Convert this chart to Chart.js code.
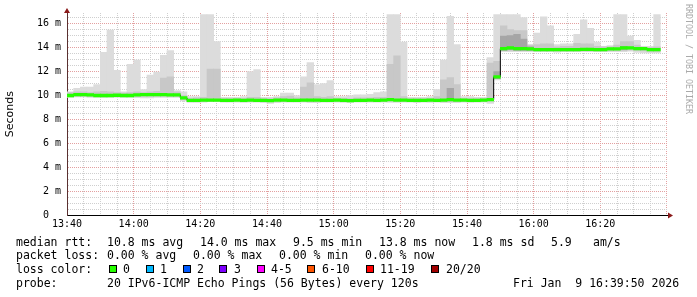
<!DOCTYPE html>
<html>
<head>
<meta charset="utf-8">
<script src="https://cdn.jsdelivr.net/npm/chart.js@4.4.1/dist/chart.umd.min.js"></script>
<style>
  body { margin: 0; background: #fff; width: 697px; height: 297px; overflow: hidden; position: relative; font-family: "DejaVu Sans Mono", monospace; }
  #chart { position: absolute; left: 0; top: 0; }
  .row { position: absolute; left: 0; width: 697px; height: 14px; font-size: 11.5px; line-height: 14px; white-space: pre; color: #000; }
  .row span { position: absolute; top: 0; }
  .row i { position: absolute; top: 3px; width: 6px; height: 6px; border: 1px solid #000; }
  #credit { position: absolute; left: 684px; top: 4px; writing-mode: vertical-rl; font-size: 8.3px; color: #aaa; white-space: pre; }
</style>
</head>
<body>
<canvas id="chart" width="697" height="297"></canvas>
<div id="credit">RRDTOOL / TOBI OETIKER</div>
<div id="legend"></div>
<script>
// 2-minute steps starting at 13:40
const startMinutes = 13 * 60 + 40;
const stepMinutes = 2;

// median rtt per step (ms)
const median = [
  10.0, 10.08, 10.08, 10.05, 10.0, 10.0, 10.0, 10.02, 10.0, 10.0,
  10.05, 10.08, 10.08, 10.08, 10.08, 10.05, 10.05, 9.8, 9.6, 9.6,
  9.62, 9.62, 9.62, 9.6, 9.6, 9.62, 9.6, 9.62, 9.6, 9.6,
  9.58, 9.62, 9.62, 9.6, 9.6, 9.62, 9.62, 9.62, 9.6, 9.6,
  9.62, 9.6, 9.58, 9.6, 9.6, 9.62, 9.6, 9.62, 9.65, 9.62,
  9.62, 9.6, 9.6, 9.6, 9.62, 9.6, 9.62, 9.65, 9.62, 9.62,
  9.6, 9.6, 9.62, 9.65, 11.55, 13.9, 13.97, 13.9, 13.9, 13.88,
  13.83, 13.83, 13.83, 13.83, 13.83, 13.83, 13.83, 13.85, 13.85, 13.83,
  13.83, 13.88, 13.88, 13.97, 13.97, 13.9, 13.9, 13.83, 13.83, null
];

// fastest ping per step
const smokeLow = [
  9.85, 9.88, 9.88, 9.85, 9.85, 9.82, 9.85, 9.85, 9.85, 9.85,
  9.82, 9.8, 9.8, 9.85, 9.85, 9.85, 9.85, 9.55, 9.42, 9.42,
  9.45, 9.48, 9.48, 9.45, 9.45, 9.45, 9.42, 9.45, 9.45, 9.4,
  9.35, 9.4, 9.45, 9.45, 9.45, 9.45, 9.4, 9.4, 9.45, 9.45,
  9.45, 9.42, 9.4, 9.45, 9.45, 9.45, 9.45, 9.45, 9.42, 9.42,
  9.45, 9.45, 9.4, 9.45, 9.42, 9.45, 9.4, 9.4, 9.4, 9.45,
  9.42, 9.45, 9.45, 9.35, 11.3, 13.65, 13.65, 13.65, 13.65, 13.65,
  13.65, 13.65, 13.65, 13.62, 13.65, 13.65, 13.65, 13.65, 13.65, 13.65,
  13.65, 13.65, 13.65, 13.65, 13.7, 13.6, 13.55, 13.55, 13.55, null
];

// slowest ping per step
const smokeHigh = [
  10.3, 10.6, 10.7, 10.7, 10.9, 13.6, 15.45, 12.1, 10.3, 12.6,
  12.95, 10.5, 11.7, 11.95, 13.35, 13.75, 10.4, 10.3, 9.9, 9.9,
  16.75, 16.75, 14.5, 9.85, 9.85, 9.85, 9.9, 12.0, 12.15, 9.85,
  9.85, 9.9, 10.2, 10.2, 10.0, 11.55, 12.75, 10.9, 11.0, 11.25,
  9.9, 9.9, 10.0, 10.05, 10.05, 10.1, 10.25, 10.3, 16.75, 16.75,
  14.45, 9.85, 9.85, 9.85, 9.9, 10.5, 12.95, 16.6, 14.25, 9.9,
  9.9, 9.85, 9.85, 13.15, 16.75, 16.75, 16.75, 16.75, 16.5, 14.25,
  15.2, 16.55, 15.8, 14.25, 14.3, 14.3, 15.1, 16.3, 15.6, 14.45,
  14.1, 14.15, 16.75, 16.75, 14.95, 14.6, 14.1, 14.1, 16.75, null
];

// middle pings band
const smokeMidLow = [
  9.92, 9.95, 9.95, 9.92, 9.9, 9.9, 9.9, 9.92, 9.9, 9.9,
  9.92, 9.95, 9.95, 9.95, 9.95, 9.92, 9.92, 9.65, 9.5, 9.5,
  9.52, 9.52, 9.52, 9.5, 9.5, 9.52, 9.5, 9.52, 9.5, 9.5,
  9.48, 9.52, 9.52, 9.5, 9.5, 9.52, 9.52, 9.52, 9.5, 9.5,
  9.52, 9.5, 9.48, 9.5, 9.5, 9.52, 9.5, 9.52, 9.55, 9.52,
  9.52, 9.5, 9.5, 9.5, 9.52, 9.5, 9.52, 9.55, 9.52, 9.52,
  9.5, 9.5, 9.52, 9.55, 11.4, 13.75, 13.8, 13.75, 13.75, 13.75,
  13.72, 13.72, 13.72, 13.72, 13.72, 13.72, 13.72, 13.72, 13.72, 13.72,
  13.72, 13.75, 13.75, 13.8, 13.8, 13.75, 13.72, 13.68, 13.68, null
];
const smokeMidHigh = [
  10.25, 10.3, 10.3, 10.25, 10.3, 10.35, 10.3, 10.25, 10.2, 10.25,
  10.3, 10.25, 10.3, 10.35, 11.45, 11.55, 10.3, 10.0, 9.75, 9.8,
  9.85, 12.2, 12.2, 9.75, 9.75, 9.75, 9.75, 9.85, 9.85, 9.75,
  9.75, 9.8, 9.9, 9.95, 9.8, 10.7, 11.05, 9.9, 9.85, 9.9,
  9.75, 9.75, 9.75, 9.8, 9.8, 9.8, 9.85, 9.85, 12.6, 13.3,
  9.9, 9.75, 9.75, 9.75, 9.75, 9.9, 11.3, 11.5, 10.9, 9.75,
  9.75, 9.75, 9.75, 12.7, 12.85, 15.8, 15.5, 15.4, 15.4, 14.2,
  14.25, 14.3, 14.3, 14.05, 14.1, 14.1, 14.35, 14.3, 14.3, 14.1,
  14.05, 14.05, 14.2, 14.5, 14.5, 14.2, 14.0, 14.0, 14.05, null
];
// darkest core band top (only where visible)
const smokeCoreHigh = [
  null, null, null, null, null, null, null, null, null, null,
  null, null, null, null, null, null, null, null, null, null,
  null, null, null, null, null, null, null, null, null, null,
  null, null, null, null, null, null, null, null, null, null,
  null, null, null, null, null, null, null, null, null, null,
  null, null, null, null, null, null, null, 10.6, null, null,
  null, null, null, null, 12.0, 14.95, 15.0, 15.1, 14.7, 14.05,
  null, null, null, null, null, null, null, null, null, null,
  null, null, null, 14.1, null, null, null, null, null, null
];

const yTickLabels = ["0  ", "2 m", "4 m", "6 m", "8 m", "10 m", "12 m", "14 m", "16 m"];
const lossLabels = ["0", "1", "2", "3", "4-5", "6-10", "11-19", "20/20"];
const lossColors = ["#26ff00", "#00b8ff", "#0059ff", "#7e00ff", "#ff00ff", "#ff5500", "#ff0000", "#a10000"];

const statLines = [
  [[16, "median rtt:"], [107, "10.8 ms avg"], [200, "14.0 ms max"], [293, "9.5 ms min"], [379, "13.8 ms now"], [472, "1.8 ms sd"], [551, "5.9"], [593, "am/s"]],
  [[16, "packet loss:"], [107, "0.00 % avg"], [193, "0.00 % max"], [279, "0.00 % min"], [365, "0.00 % now"]],
];
const probeText = "20 IPv6-ICMP Echo Pings (56 Bytes) every 120s";
const dateText = "Fri Jan  9 16:39:50 2026";

// ---- legend (html text)
const legend = document.getElementById("legend");
let html = "";
const rowTops = [235, 248, 262, 276];
statLines.forEach((line, r) => {
  html += `<div class="row" style="top:${rowTops[r]}px">`;
  line.forEach(([x, t]) => (html += `<span style="left:${x}px">${t}</span>`));
  html += `</div>`;
});
const boxX = [109, 146, 183, 219, 257, 307, 366, 431];
const lblX = [123, 160, 197, 234, 271, 322, 380, 446];
html += `<div class="row" style="top:${rowTops[2]}px"><span style="left:16px">loss color:</span>`;
lossLabels.forEach((l, i) => {
  html += `<i style="left:${boxX[i]}px;background:${lossColors[i]}"></i><span style="left:${lblX[i]}px">${l}</span>`;
});
html += `</div>`;
html += `<div class="row" style="top:${rowTops[3]}px"><span style="left:16px">probe:</span><span style="left:107px">${probeText}</span><span style="left:513px">${dateText}</span></div>`;
legend.innerHTML = html;

// ---- chart
const band = (lo, hi) =>
  lo.map((v, i) => (v == null || hi[i] == null ? null : { x: i * stepMinutes + stepMinutes / 2, y: [v, hi[i]] })).filter(Boolean);

const greenBand = median
  .map((v, i) => (v == null ? null : { x: i * stepMinutes + stepMinutes / 2, y: [v - 0.11, v + 0.11] }))
  .filter(Boolean);

const fmtTime = (m) => {
  const t = startMinutes + m;
  return String(Math.floor(t / 60)).padStart(2, "0") + ":" + String(t % 60).padStart(2, "0");
};

const axisArrows = {
  id: "axisArrows",
  afterDraw(chart) {
    const { ctx, chartArea: a } = chart;
    ctx.save();
    ctx.fillStyle = "#8b1a1a";
    ctx.beginPath();
    ctx.moveTo(a.left - 3, a.top);
    ctx.lineTo(a.left + 3, a.top);
    ctx.lineTo(a.left, a.top - 5);
    ctx.closePath();
    ctx.fill();
    ctx.beginPath();
    ctx.moveTo(a.right, a.bottom - 3);
    ctx.lineTo(a.right, a.bottom + 3);
    ctx.lineTo(a.right + 5, a.bottom);
    ctx.closePath();
    ctx.fill();
    ctx.restore();
  },
};

const barBase = { grouped: false, barPercentage: 1, categoryPercentage: 1, borderWidth: 0 };

new Chart(document.getElementById("chart"), {
  type: "bar",
  data: {
    datasets: [
      { ...barBase, label: "smoke", data: band(smokeLow, smokeHigh), backgroundColor: "#dcdcdc", order: 5 },
      { ...barBase, label: "smoke mid", data: band(smokeMidLow, smokeMidHigh), backgroundColor: "#c8c8c8", order: 4 },
      { ...barBase, label: "smoke core", data: band(smokeMidLow, smokeCoreHigh), backgroundColor: "#a6a6a6", order: 3 },
      {
        type: "line",
        label: "median",
        data: median.map((v, i) => ({ x: i * stepMinutes + stepMinutes / 2, y: v })),
        borderColor: "#000",
        borderWidth: 1,
        pointRadius: 0,
        stepped: "middle",
        order: 2,
      },
      { ...barBase, label: "loss 0", data: greenBand, backgroundColor: lossColors[0], order: 1 },
    ],
  },
  options: {
    responsive: false,
    animation: false,
    layout: { padding: { top: 13, right: 29, left: 0, bottom: 0 } },
    plugins: { legend: { display: false }, tooltip: { enabled: false } },
    scales: {
      x: {
        type: "linear",
        min: 0,
        max: 180.3,
        offset: false,
        afterFit: (s) => (s.height = 81.5),
        grid: {
          offset: false,
          drawTicks: false,
          color: (c) => (c.tick.value % 20 === 0 ? "#e3a0a0" : "#cfcfcf"),
        },
        border: { color: "#000", dash: [1, 1] },
        ticks: {
          stepSize: 5,
          autoSkip: false,
          maxRotation: 0,
          includeBounds: false,
          padding: 3,
          color: "#000",
          font: { family: "DejaVu Sans Mono", size: 10 },
          callback: (v) => (v % 20 === 0 && v < 180 ? fmtTime(v) : ""),
        },
      },
      y: {
        min: 0,
        max: 16.875,
        afterFit: (s) => (s.width = 67),
        grid: {
          drawTicks: false,
          color: (c) => (c.tick.value % 2 === 0 ? "#e3a0a0" : "#cfcfcf"),
        },
        border: { color: "#5a3030", dash: [1, 1] },
        title: { display: true, text: "Seconds", color: "#000", font: { family: "DejaVu Sans", size: 11 }, padding: { top: 4, bottom: 0 } },
        ticks: {
          stepSize: 0.5,
          autoSkip: false,
          includeBounds: false,
          padding: 6,
          color: "#000",
          font: { family: "DejaVu Sans Mono", size: 10 },
          callback: (v) => (v % 2 === 0 ? yTickLabels[v / 2] : ""),
        },
      },
    },
  },
  plugins: [axisArrows],
});
</script>
</body>
</html>
